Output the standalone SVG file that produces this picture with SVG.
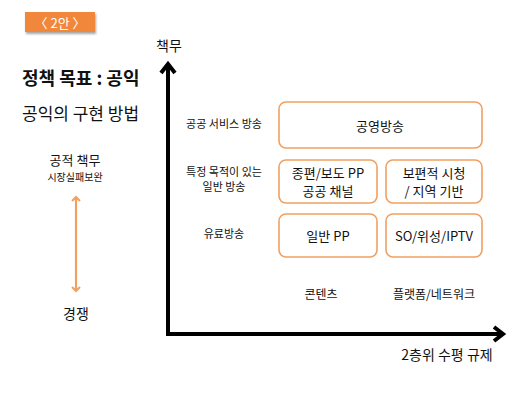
<svg xmlns="http://www.w3.org/2000/svg" width="511" height="400" viewBox="0 0 511 400">
<defs>
<style>
text{font-family:"Noto Sans CJK KR","Noto Sans",sans-serif;fill:#111;text-anchor:middle;dominant-baseline:central}
.box{fill:#fff;stroke:#F0A162;stroke-width:1.6}
.lbl{font-size:11px}
.bt{font-size:13px}
.title{font-size:18px;font-weight:bold;text-anchor:start}
.axis{stroke:#000;stroke-width:4;fill:none}
</style>
<filter id="sh" x="-20%" y="-20%" width="140%" height="150%"><feDropShadow dx="1" dy="2" stdDeviation="1.2" flood-color="#000" flood-opacity="0.35"/></filter>
<marker id="oa" viewBox="0 0 10 10" refX="5" refY="5" markerWidth="10" markerHeight="10" markerUnits="userSpaceOnUse" orient="auto-start-reverse"><path d="M1,1 L5,5 L1,9" fill="none" stroke="#F0A162" stroke-width="2"/></marker>
</defs>
<rect width="511" height="400" fill="#fff"/>
<g id="tag"><rect x="25" y="12" width="70" height="20" fill="#F0873A" filter="url(#sh)"/><text x="60" y="22" style="fill:#fff;font-size:13px">〈 2안 〉</text></g>
<g id="titles">
<text class="title" x="22" y="77">정책 목표 : 공익</text>
<text class="title" x="22" y="112" style="font-weight:normal;font-size:17px">공익의 구현 방법</text>
</g>
<g id="left-scale">
<text x="75" y="159" style="font-size:13px">공적 책무</text>
<text x="75" y="176" style="font-size:10px">시장실패보완</text>
<line x1="76" y1="197" x2="76" y2="291" stroke="#F0A162" stroke-width="2.2" marker-start="url(#oa)" marker-end="url(#oa)"/>
<text x="76" y="313" style="font-size:14px">경쟁</text>
</g>
<g id="connectors">
<path class="axis" d="M168,64 V334 H503"/>
<path class="axis" d="M161,73 L168,64 L175,73" stroke-width="3.5"/>
<path class="axis" d="M494,327 L503,334 L494,341" stroke-width="3.5"/>
</g>
<g id="axis-labels">
<text x="169" y="45" style="font-size:14px">책무</text>
<text x="447" y="354" style="font-size:14px">2층위 수평 규제</text>
<text x="321" y="293" class="bt" style="font-size:12px">콘텐츠</text>
<text x="434" y="293" class="bt" style="font-size:12px">플랫폼/네트워크</text>
</g>
<g id="row-labels">
<text class="lbl" x="224" y="171">특정 목적이 있는</text>
<text class="lbl" x="224" y="186">일반 방송</text>
<text class="lbl" x="224" y="123">공공 서비스 방송</text>
<text class="lbl" x="224" y="233">유료방송</text>
</g>
<g id="n-public"><rect class="box" x="279" y="102" width="203" height="46" rx="7"/><text class="bt" x="380" y="125">공영방송</text></g>
<g id="n-jongpyeon"><rect class="box" x="279" y="160" width="98" height="43" rx="7"/><text class="bt" x="328" y="172">종편/보도 PP</text><text class="bt" x="328" y="190">공공 채널</text></g>
<g id="n-universal"><rect class="box" x="386" y="160" width="96" height="43" rx="7"/><text class="bt" x="434" y="172">보편적 시청</text><text class="bt" x="434" y="190">/ 지역 기반</text></g>
<g id="n-generalpp"><rect class="box" x="279" y="214" width="98" height="43" rx="7"/><text class="bt" x="328" y="235">일반 PP</text></g>
<g id="n-so"><rect class="box" x="386" y="214" width="96" height="43" rx="7"/><text class="bt" x="434" y="235">SO/위성/IPTV</text></g>
</svg>
